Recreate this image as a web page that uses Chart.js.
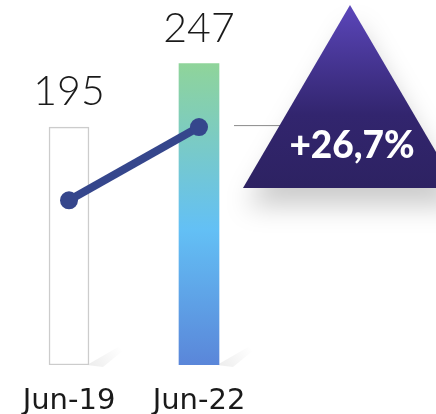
<!DOCTYPE html>
<html>
<head>
<meta charset="utf-8">
<script src="https://cdn.jsdelivr.net/npm/chart.js@4.4.0/dist/chart.umd.min.js"></script>
<style>
  html, body { margin: 0; padding: 0; background: #fff; }
  #wrap { width: 436px; height: 414px; }
</style>
</head>
<body>
<div id="wrap"><canvas id="growthChart" width="436" height="414"></canvas></div>
<script>
// Chart data
const periods = ['Jun-19', 'Jun-22'];
const barValues = [195, 247];
const trendValues = [135, 195];

// change between the two periods, e.g. +26,7%
const change = ((barValues[1] / barValues[0]) - 1) * 100;
const changeLabel = '+' + change.toFixed(1).replace('.', ',') + '%';

// Gradient for the second bar
function barFill(context) {
    const chart = context.chart;
    const area = chart.chartArea;
    if (context.dataIndex === 0) return '#ffffff';
    if (!area || !chart.scales.y) return '#63c0f5';
    const top = chart.scales.y.getPixelForValue(barValues[context.dataIndex]);
    if (!isFinite(top) || !isFinite(area.bottom)) return '#63c0f5';
    const g = chart.ctx.createLinearGradient(0, top, 0, area.bottom);
    g.addColorStop(0, '#8fd49a');
    g.addColorStop(0.55, '#63c0f5');
    g.addColorStop(1, '#5a86d9');
    return g;
}

// Value labels, soft shadows and the percentage triangle
const decorations = {
    id: 'decorations',
    beforeDatasetsDraw(chart) {
        const ctx = chart.ctx;
        const meta = chart.getDatasetMeta(0);
        ctx.save();
        meta.data.forEach(bar => {
            const right = bar.x + bar.width / 2;
            const bottom = bar.base;
            const g = ctx.createLinearGradient(right, bottom, right + 30, bottom - 20);
            g.addColorStop(0, 'rgba(0,0,0,0.07)');
            g.addColorStop(1, 'rgba(0,0,0,0)');
            ctx.fillStyle = g;
            ctx.beginPath();
            ctx.moveTo(right - 2, bottom);
            ctx.lineTo(right + 36, bottom - 22);
            ctx.lineTo(right + 36, bottom - 16);
            ctx.lineTo(right + 14, bottom + 2);
            ctx.closePath();
            ctx.fill();
        });
        ctx.restore();
    },
    afterDraw(chart) {
        const ctx = chart.ctx;
        const bars = chart.getDatasetMeta(0).data;
        const points = chart.getDatasetMeta(1).data;

        // values above bars
        ctx.save();
        ctx.fillStyle = '#1a1a1a';
        ctx.font = '300 41px Lato';
        ctx.textAlign = 'center';
        ctx.textBaseline = 'alphabetic';
        bars.forEach((bar, i) => {
            ctx.fillText(String(barValues[i]), bar.x, bar.y - 22);
        });
        ctx.restore();

        // connector line
        const last = bars[bars.length - 1];
        const lastPoint = points[points.length - 1];
        ctx.save();
        ctx.strokeStyle = '#8a8a8a';
        ctx.lineWidth = 1;
        ctx.beginPath();
        ctx.moveTo(last.x + last.width / 2 + 15, lastPoint.y - 1.5);
        ctx.lineTo(290, lastPoint.y - 1.5);
        ctx.stroke();
        ctx.restore();

        // triangle
        const apex = { x: 350, y: 5 };
        const baseY = 188;
        const half = 107;
        ctx.save();
        ctx.shadowColor = 'rgba(0,0,0,0.2)';
        ctx.shadowBlur = 26;
        ctx.shadowOffsetX = 4;
        ctx.shadowOffsetY = 18;
        const tg = ctx.createLinearGradient(0, apex.y, 0, baseY);
        tg.addColorStop(0, '#5b46ba');
        tg.addColorStop(0.6, '#32256e');
        tg.addColorStop(1, '#2d2262');
        ctx.fillStyle = tg;
        ctx.beginPath();
        ctx.moveTo(apex.x, apex.y);
        ctx.lineTo(apex.x + half, baseY);
        ctx.lineTo(apex.x - half, baseY);
        ctx.closePath();
        ctx.fill();
        ctx.restore();

        ctx.save();
        ctx.fillStyle = '#ffffff';
        ctx.font = '900 37px Lato';
        ctx.textAlign = 'center';
        ctx.textBaseline = 'alphabetic';
        ctx.fillText(changeLabel, 352, 158);
        ctx.restore();
    }
};

new Chart(document.getElementById('growthChart'), {
    data: {
        labels: periods,
        datasets: [{
            type: 'bar',
            data: barValues,
            backgroundColor: barFill,
            borderColor: ['#cccccc', 'rgba(0,0,0,0)'],
            borderWidth: [1.5, 0],
            borderSkipped: false,
            barThickness: 40,
            order: 2
        }, {
            type: 'line',
            data: trendValues,
            borderColor: '#35468c',
            backgroundColor: '#35468c',
            borderWidth: 8,
            pointRadius: 9,
            pointHoverRadius: 9,
            pointBackgroundColor: '#35468c',
            pointBorderWidth: 0,
            clip: false,
            order: 1
        }]
    },
    options: {
        responsive: false,
        animation: false,
        layout: {
            autoPadding: false,
            padding: { top: 60, left: 4, right: 172, bottom: 0 }
        },
        plugins: {
            legend: { display: false },
            tooltip: { enabled: false }
        },
        scales: {
            x: {
                offset: true,
                grid: { display: false, drawTicks: false },
                border: { display: false },
                afterFit(scale) {
                    scale.height = 49;
                    scale.paddingLeft = 0;
                    scale.paddingRight = 0;
                },
                ticks: {
                    color: '#1a1a1a',
                    padding: 19,
                    autoSkip: false,
                    minRotation: 0,
                    maxRotation: 0,
                    font: { family: 'DejaVu Sans', size: 29 }
                }
            },
            y: {
                display: false,
                min: 0,
                max: 250
            }
        }
    },
    plugins: [decorations]
});
</script>
</body>
</html>
